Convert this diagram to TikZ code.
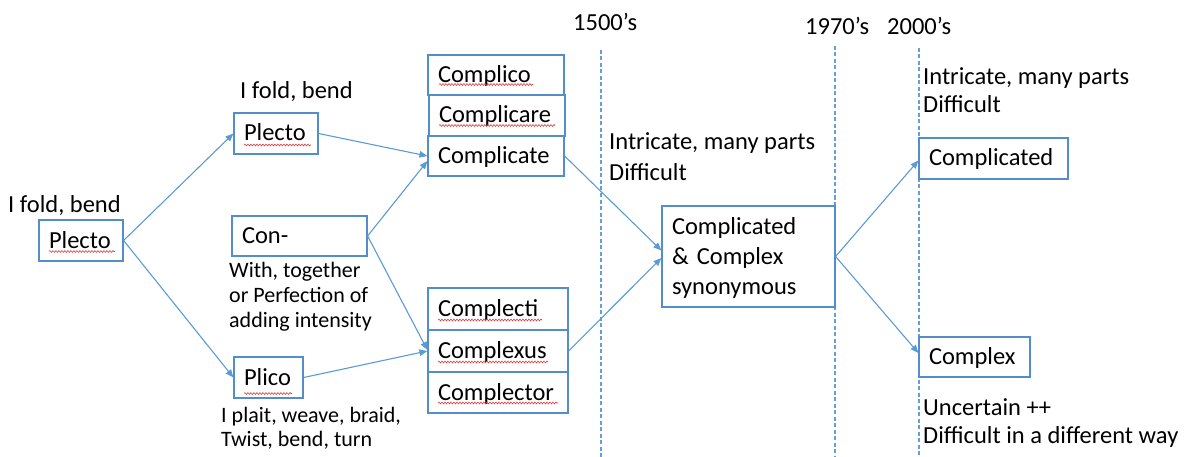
\documentclass[tikz,border=0pt]{standalone}
\usepackage{fontspec}
\setmainfont{Carlito}
\usetikzlibrary{arrows.meta,decorations.pathmorphing}
\definecolor{edge}{RGB}{91,155,213}
\definecolor{frame}{RGB}{84,141,204}
\definecolor{rule}{RGB}{100,160,215}
\definecolor{squig}{RGB}{225,60,60}

\begin{document}
\begin{tikzpicture}[x=1pt,y=-1pt,
  big/.style={font=\fontsize{24.5}{30}\selectfont},
  small/.style={font=\fontsize{22}{25.5}\selectfont},
  word/.style={draw=frame, fill=white, line width=1.2pt, big, inner xsep=10pt,
    inner ysep=0pt, align=left, text height=18pt, text depth=3pt},
  txt/.style={big, anchor=base west, inner sep=0pt},
  note/.style={small, anchor=base west, inner sep=0pt},
  link/.style={draw=edge, line width=1.1pt, -{Triangle[length=8pt,width=6.5pt]}},
  era/.style={draw=rule, line width=1.2pt, dash pattern=on 4pt off 2.5pt},
  speller/.style={draw=squig, line width=0.6pt,
    decorate, decoration={snake, amplitude=0.9pt, segment length=3pt}}]

\useasboundingbox (0,0) rectangle (1190,457);

% timeline markers
\node[txt] (y1500) at (573,31) {1500’s};
\node[txt] (y1970) at (805,35) {1970’s};
\node[txt] (y2000) at (887,35) {2000’s};
\draw[era] (601,50) -- (601,457);
\draw[era] (835,46) -- (835,457);
\draw[era] (919,48) -- (919,457);

% word boxes
\node[word, text width=64pt, minimum height=41pt] (plectoA) at (81,240.5) {Plecto};
\node[word, text width=64pt, minimum height=41pt] (plectoB) at (276,133.5) {Plecto};
\node[word, text width=115pt, minimum height=40pt] (con) at (299.5,236) {Con-};
\node[word, text width=49pt, minimum height=41pt] (plico) at (268.5,377.5) {Plico};
\node[word, text width=116pt, minimum height=40pt] (complico) at (496,75) {Complico};
\node[word, text width=116pt, minimum height=41pt] (complicare) at (497,115.5) {Complicare};
\node[word, text width=116pt, minimum height=40pt] (complicate) at (496,156) {Complicate};
\node[word, text width=120pt, minimum height=42pt] (complecti) at (498,309) {Complecti};
\node[word, text width=120pt, minimum height=42pt] (complexus) at (498,351) {Complexus};
\node[word, text width=120pt, minimum height=41pt] (complector) at (498,392.5) {Complector};
\node[word, text width=153pt, minimum height=101pt, text depth=63pt] (cc) at (748.5,256.5)
  {Complicated\\\& Complex\\synonymous};
\node[word, text width=129pt, minimum height=41pt] (complicated) at (993.5,158.5) {Complicated};
\node[word, text width=91pt, minimum height=40pt] (complex) at (974.5,357) {Complex};

% spelling marks under the Latin forms
\draw[speller] (49,251.5) -- (115,251.5);
\draw[speller] (244,145) -- (311,145);
\draw[speller] (439,84.5) -- (533,84.5);
\draw[speller] (439,125.5) -- (555,125.5);
\draw[speller] (438,320) -- (542,320);
\draw[speller] (438,362) -- (548,362);
\draw[speller] (438,403) -- (558,403);
\draw[speller] (244,393.5) -- (292,393.5);

% glosses
\node[txt] (foldA) at (8,212) {I fold, bend};
\node[txt] (foldB) at (240,99) {I fold, bend};
\node[note] (with1) at (229,277) {With, together};
\node[note] (with2) at (229,302) {or Perfection of};
\node[note] (with3) at (229,327.5) {adding intensity};
\node[note] (plait1) at (221,422) {I plait, weave, braid,};
\node[note] (plait2) at (221,446) {Twist, bend, turn};
\node[txt] (mid1) at (609,150) {Intricate, many parts};
\node[txt] (mid2) at (609,180) {Difficult};
\node[txt] (top1) at (923,85) {Intricate, many parts};
\node[txt] (top2) at (923,113) {Difficult};
\node[txt] (low1) at (923,415) {Uncertain ++};
\node[txt] (low2) at (923,443) {Difficult in a different way};

% derivations
\draw[link] (plectoA.east) -- (plectoB.west);
\draw[link] (plectoA.east) -- (plico.west);
\draw[link] (plectoB.east) -- (complicate.west);
\draw[link] (con.east) -- ([yshift=-5pt]complicate.west);
\draw[link] (con.east) -- ([yshift=1pt]complexus.west);
\draw[link] (plico.east) -- (complexus.west);
\draw[link] (complicate.east) -- ([yshift=6pt]cc.west);
\draw[link] (complexus.east) -- ([yshift=-1.5pt]cc.west);
\draw[link] (cc.east) -- ([yshift=-2pt]complicated.west);
\draw[link] (cc.east) -- ([yshift=4pt]complex.west);
\end{tikzpicture}
\end{document}
